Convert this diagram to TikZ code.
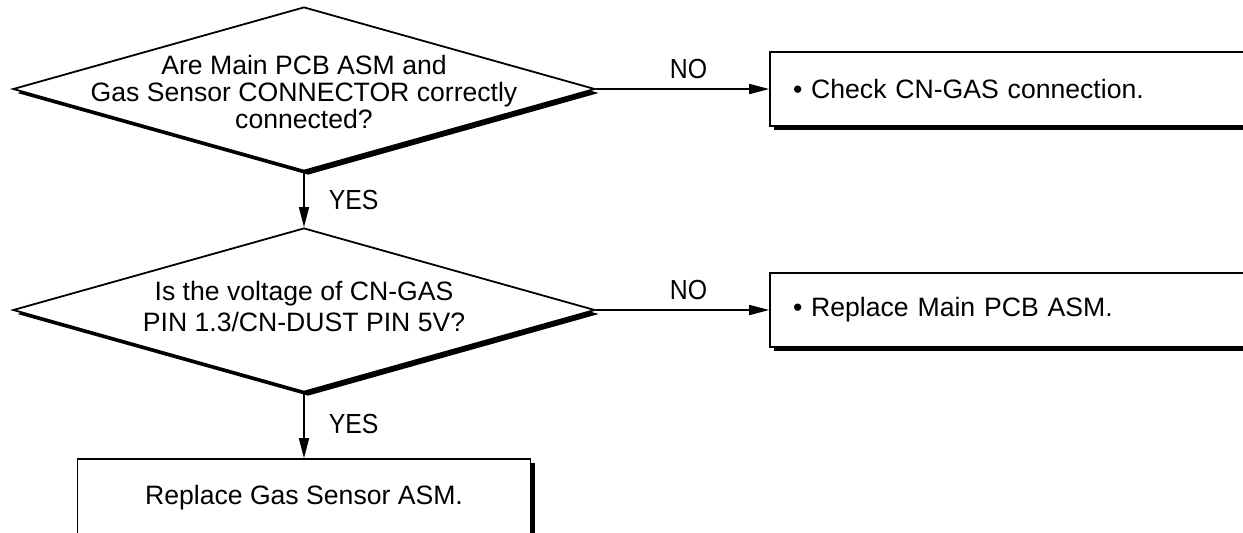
\documentclass[tikz,border=0pt]{standalone}
\usepackage{fontspec}
\setmainfont{Liberation Sans}
\newfontfamily\narrowfont[FakeStretch=0.9]{Liberation Sans}
\usetikzlibrary{positioning, shapes.geometric, shadows, arrows.meta}

\begin{document}
\begin{tikzpicture}[x=0.5pt, y=-0.5pt, line width=0.8pt, >={Triangle[length=10pt, width=5pt]},
  shd/.style = {drop shadow={shadow xshift=2pt, shadow yshift=-2pt, fill=black, opacity=1}},
  dec/.style = {draw, diamond, fill=white, shd, minimum width=291pt, minimum height=82pt, aspect=3.55, inner sep=0pt, line width=0.9pt},
  qtext/.style = {align=center, font=\fontsize{13.3}{13.6}\selectfont},
  box/.style = {draw, rectangle, fill=white, shd, minimum height=37pt, text width=247pt, inner xsep=11.5pt, align=left, font=\fontsize{13.3}{13.6}\selectfont},
  endbox/.style = {draw, rectangle, fill=white, shd, minimum width=226.5pt, minimum height=39pt, font=\fontsize{13.3}{13.6}\selectfont},
  lbl/.style = {inner sep=0pt, font=\narrowfont\fontsize{13.8}{14}\selectfont}]
\useasboundingbox (0,0) rectangle (1243,532);
\clip (0,0) rectangle (1243,532);

\node[dec, label={[qtext, yshift=-1.5pt]center:{Are Main PCB ASM and\\Gas Sensor CONNECTOR correctly\\connected?}}] (d1) at (304,89) {};
\node[dec, below of=d1, node distance=110.5pt, label={[qtext, yshift=2pt, font=\fontsize{13.3}{15.5}\selectfont]center:{Is the voltage of CN-GAS\\PIN 1.3/CN-DUST PIN 5V?}}] (d2) {};
\node[box, right of=d1, node distance=368pt] (b1) {• Check CN-GAS connection.};
\node[box, right of=d2, node distance=368pt] (b2) {• Replace Main PCB ASM.};
\node[endbox, below of=d2, node distance=94pt] (b3) {Replace Gas Sensor ASM.};

\draw[->] (d1) -- node[lbl, above=4.5pt, xshift=3pt] {NO} (b1);
\draw[->] (d1) -- node[lbl, right=12pt] {YES} (d2);
\draw[->] (d2) -- node[lbl, above=4.5pt, xshift=3pt] {NO} (b2);
\draw[->] (d2) -- node[lbl, right=12pt, yshift=1pt] {YES} (b3);
\end{tikzpicture}
\end{document}
